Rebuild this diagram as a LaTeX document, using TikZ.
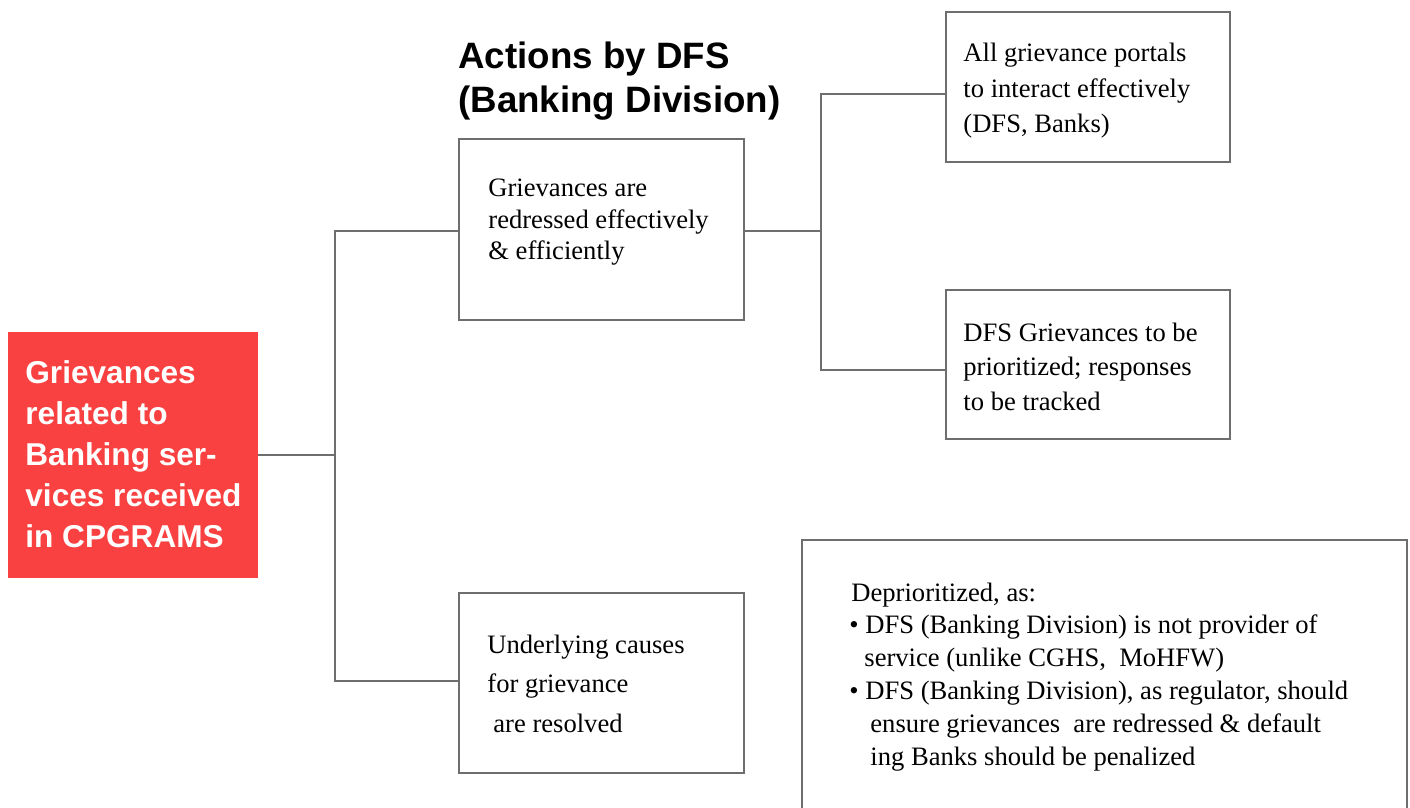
\documentclass[tikz,border=0pt]{standalone}
\usepackage{fontspec}
\setmainfont{Liberation Serif}
\newfontfamily\headfont{Liberation Sans}
\definecolor{linegray}{RGB}{110,110,110}
\definecolor{alertred}{RGB}{249,65,65}
\begin{document}
\begin{tikzpicture}[x=0.5pt,y=-0.5pt,
  box/.style={draw=linegray,line width=1.4pt,inner sep=0pt,outer sep=0pt,anchor=north west},
  link/.style={draw=linegray,line width=1.1pt},
  txt/.style={inner sep=0pt,anchor=base west,align=left,font=\fontsize{13.3}{#1}\selectfont},
  txt/.default=16,
  head/.style={inner sep=0pt,anchor=base west,align=left,font=\headfont\bfseries\fontsize{#1}{22}\selectfont}]
  \useasboundingbox (0,0) rectangle (1410,808);
  \node[box,draw=none,fill=alertred,minimum width=125pt,minimum height=123pt] (red) at (8,332) {};
  \node[head=15.8,text=white,font=\headfont\bfseries\fontsize{15.8}{20.5}\selectfont] (redtxt) at (25,547)
    {Grievances\\related to\\Banking ser-\\vices received\\in CPGRAMS};
  \node[head=18.35] (title) at (458,113) {Actions by DFS\\(Banking Division)};
  \node[box,minimum width=142.5pt,minimum height=90.5pt] (g1) at (459,139) {};
  \node[box,minimum width=142.5pt,minimum height=90pt] (g3) at (459,593) {};
  \node[box,minimum width=142pt,minimum height=75pt] (p1) at (946,12) {};
  \node[box,minimum width=142pt,minimum height=74.5pt] (p2) at (946,290) {};
  \node[box,minimum width=302.5pt,minimum height=150pt] (note) at (802,540) {};
  \node[txt] (g1txt) at (488,260) {Grievances are\\redressed effectively\\\& efficiently};
  \node[txt=19.75] (g3txt) at (487,732) {Underlying causes\\for grievance\\\hspace*{3pt}are resolved};
  \node[txt=17.75] (p1txt) at (963,133) {All grievance portals\\to interact effectively\\(DFS, Banks)};
  \node[txt=17.25] (p2txt) at (963,410) {DFS Grievances to be\\prioritized; responses\\to be tracked};
  \node[txt=16.4] (notetxt) at (849,765) {\hspace*{1pt}Deprioritized, as:\\
    \textbullet\ DFS (Banking Division) is not provider of\\
    \hspace*{7.5pt}service (unlike CGHS,\ \ MoHFW)\\
    \textbullet\ DFS (Banking Division), as regulator, should\\
    \hspace*{10.5pt}ensure grievances\ \ are redressed \& default\\
    \hspace*{10.5pt}ing Banks should be penalized};
  \coordinate (split) at (335,455); \coordinate (split2) at (821,231);
  \draw[link] (red.east) -- (split);
  \draw[link] ([yshift=-0.75pt]g1.west) -| (split) |- ([yshift=1pt]g3.west);
  \draw[link] ([yshift=-0.75pt]g1.east) -- (split2);
  \draw[link] ([yshift=-3.5pt]p1.west) -| (split2) |- ([yshift=-2.75pt]p2.west);
\end{tikzpicture}
\end{document}
